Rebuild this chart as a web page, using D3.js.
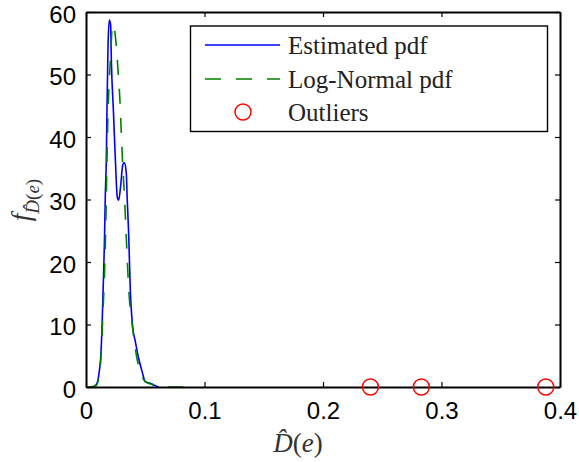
<!DOCTYPE html>
<html><head><meta charset="utf-8">
<script src="https://cdn.jsdelivr.net/npm/d3@7"></script>
<style>body{margin:0;background:#fff}svg{display:block}</style>
</head><body>
<svg id="chart" width="579" height="462"></svg>
<script>
// Data
const estX = [0.0062,0.0093,0.0112,0.0127,0.0135,0.0143,0.0155,0.0163,0.0172,0.0177,0.0186,0.0197,0.0208,0.0214,0.0231,0.0248,0.0264,0.0276,0.0293,0.0310,0.0324,0.0340,0.0348,0.0360,0.0374,0.0394,0.0416,0.0444,0.0473,0.0500,0.0543,0.0585,0.0613];
const estY = [0,0.6,2.5,5.6,9.4,14.7,22.7,30.7,37.0,44.3,54.7,58.7,57.9,52.3,44.3,36.3,30.4,29.9,32.3,35.5,35.9,34.2,30.0,24.5,15.5,9.6,7.3,4.6,2.5,0.85,0.6,0.2,0];
const lnX = [0.0020,0.0084,0.0112,0.0132,0.0143,0.0155,0.0163,0.0169,0.0177,0.0183,0.0191,0.0205,0.0225,0.0253,0.0270,0.0287,0.0298,0.0310,0.0324,0.0343,0.0360,0.0380,0.0394,0.0408,0.0430,0.0458,0.0500,0.0543,0.0600,0.0700,0.0900];
const lnY = [0,0.2,1.9,6.7,12,17.4,22.7,28,36.6,41.8,46.9,52,58,55.2,50.7,45.6,40.6,35.5,30.7,22.7,15.8,11.5,9.4,7.2,4.6,2.5,0.85,0.5,0.1,0,0];
const outlierX = [0.240,0.283,0.388];
const outlierY = [0,0,0];
const xTicks = [0,0.1,0.2,0.3,0.4];
const yTicks = [0,10,20,30,40,50,60];
const legendLabels = ["Estimated pdf","Log-Normal pdf","Outliers"];

const svg = d3.select("#chart");
const L=86, R=560, T=12, B=387;
const x = d3.scaleLinear().domain([0,0.4]).range([L,R]);
const y = d3.scaleLinear().domain([0,60]).range([B,T]);

const line = d3.line().x(d=>x(d[0])).y(d=>y(d[1])).curve(d3.curveMonotoneX);
const est = estX.map((v,i)=>[v,estY[i]]);
const ln = lnX.map((v,i)=>[v,lnY[i]]);

svg.append("path").attr("d",line(est)).attr("fill","none").attr("stroke","#0000ff").attr("stroke-width",1.6);
svg.append("path").attr("d",line(ln)).attr("fill","none").attr("stroke","#008000").attr("stroke-width",1.6).attr("stroke-dasharray","15,14");

// axes box
const fmt = d=> d===0? "0" : d3.format(".1f")(d);
const ax = svg.append("g").attr("transform",`translate(0,${B})`).call(d3.axisBottom(x).tickValues(xTicks).tickSizeInner(-5).tickSizeOuter(0).tickPadding(15).tickFormat(fmt));
const axT = svg.append("g").attr("transform",`translate(0,${T})`).call(d3.axisTop(x).tickValues(xTicks).tickSizeInner(-5).tickSizeOuter(0).tickFormat(""));
const ay = svg.append("g").attr("transform",`translate(${L},0)`).call(d3.axisLeft(y).tickValues(yTicks).tickSizeInner(-5).tickSizeOuter(0).tickPadding(10));
const ayR = svg.append("g").attr("transform",`translate(${R},0)`).call(d3.axisRight(y).tickValues(yTicks).tickSizeInner(-5).tickSizeOuter(0).tickFormat(""));
[ax,axT,ay,ayR].forEach(g=>{
  g.select(".domain").attr("stroke","#000").attr("stroke-width",2);
  g.selectAll(".tick line").attr("stroke","#000").attr("stroke-width",1.2);
  g.selectAll("text").attr("font-family","'Liberation Sans', Arial, sans-serif").attr("font-size",24).attr("fill","#000");
});
ax.selectAll(".tick text").attr("dy","0.71em");
ay.selectAll(".tick text").attr("dy","0.42em");

// outliers
svg.selectAll("circle.out").data(outlierX.map((v,i)=>[v,outlierY[i]])).enter().append("circle")
  .attr("class","out").attr("cx",d=>x(d[0])).attr("cy",d=>y(d[1])).attr("r",8)
  .attr("fill","none").attr("stroke","#ff0000").attr("stroke-width",1.5);

// legend
const lg = svg.append("g");
lg.append("rect").attr("x",190.5).attr("y",26).attr("width",357).attr("height",105.5).attr("fill","#fff").attr("stroke","#000").attr("stroke-width",1.4);
const rowsY = [45,79,112];
lg.append("line").attr("x1",205).attr("x2",280).attr("y1",rowsY[0]).attr("y2",rowsY[0]).attr("stroke","#0000ff").attr("stroke-width",1.6);
lg.append("line").attr("x1",205).attr("x2",280).attr("y1",rowsY[1]).attr("y2",rowsY[1]).attr("stroke","#008000").attr("stroke-width",1.6).attr("stroke-dasharray","16,15");
lg.append("circle").attr("cx",243).attr("cy",rowsY[2]).attr("r",8).attr("fill","none").attr("stroke","#ff0000").attr("stroke-width",1.5);
legendLabels.forEach((t,i)=>{
  lg.append("text").attr("x",288).attr("y",rowsY[i]).attr("dy","0.35em")
    .attr("font-family","'Liberation Serif','Times New Roman',serif").attr("font-size",25).attr("fill","#222")
    .text(t);
});

// x label
const xl = svg.append("text").attr("x",298).attr("y",452).attr("text-anchor","middle")
  .attr("font-family","'Liberation Serif','Times New Roman',serif").attr("font-size",27).attr("fill","#333");
xl.append("tspan").attr("font-style","italic").text("D\u0302");
xl.append("tspan").text("(");
xl.append("tspan").attr("font-style","italic").text("e");
xl.append("tspan").text(")");

// y label
const yl = svg.append("text").attr("transform","translate(30,200) rotate(-90)").attr("text-anchor","middle")
  .attr("font-family","'Liberation Serif','Times New Roman',serif").attr("fill","#333");
yl.append("tspan").attr("font-style","italic").attr("font-size",27).text("f");
yl.append("tspan").attr("font-style","italic").attr("font-size",19).attr("dy",9).text("D\u0302");
yl.append("tspan").attr("font-size",19).text("(");
yl.append("tspan").attr("font-style","italic").attr("font-size",19).text("e");
yl.append("tspan").attr("font-size",19).text(")");
</script>
</body></html>
